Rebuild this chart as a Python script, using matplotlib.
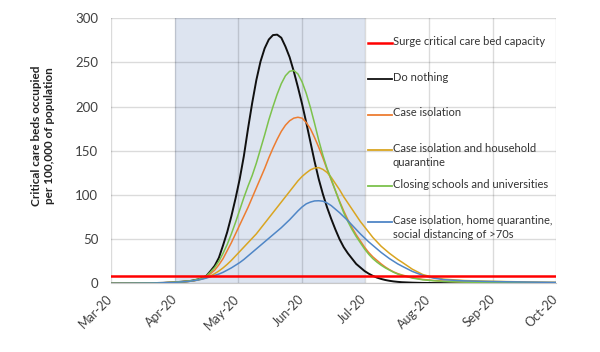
import numpy as np
import matplotlib
matplotlib.use('Agg')
from matplotlib import pyplot as plt
import matplotlib.dates as mdates

plt.rcParams['font.family'] = ['Lato', 'DejaVu Sans']

# days since 1 March 2020
days = [0, 10, 20, 25, 30, 34, 38] + list(range(40, 141, 2)) + [145, 150, 155, 160, 170, 180, 190, 200, 214]

surge_capacity = 8

do_nothing = [0, 0.1, 0.3, 0.6, 1.1, 1.8, 2.6,
              3.5, 4.5, 6, 8.5, 14, 20, 29, 43, 58, 76,
              96, 118, 144, 175, 204, 230, 251, 266, 276, 281,
              281.5, 278, 268, 256, 240, 222, 203, 182, 160, 138,
              118, 101, 86, 73, 61, 50, 41, 34, 28, 22,
              18, 14, 11, 8.5, 6.5, 5, 3.8, 2.9, 2.2, 1.7, 1.3,
              0.8, 0.5, 0.4, 0.3, 0.2, 0.15, 0.1, 0.1, 0.1]
case_isolation = [0, 0.1, 0.3, 0.6, 1.1, 1.8, 2.5,
                  3, 4, 5.5, 7.5, 11, 15, 21, 28, 37, 46,
                  56, 66, 76, 86, 97, 108, 119, 130, 142, 153,
                  163, 172, 179, 184, 187, 188, 187, 182, 175, 165,
                  154, 142, 129, 117, 105, 93, 82, 72, 63, 55,
                  48, 41, 35, 30, 26, 22, 18.5, 15.5, 13, 11, 9.5,
                  6.5, 4.5, 3.3, 2.5, 1.6, 1.2, 0.9, 0.7, 0.5]
household_quarantine = [0, 0.1, 0.3, 0.6, 1.0, 1.6, 2.4,
                        3, 3.8, 5, 6.5, 8.5, 11, 14, 17.5, 21.5, 26,
                        31, 36, 41, 46, 51, 56, 62, 68, 74, 80,
                        86, 92, 98, 104, 110, 116, 121, 125, 128.5, 130.5,
                        131, 129, 125.5, 120, 113, 106, 98, 91, 84, 77,
                        70, 64, 58, 52, 47, 42, 38, 34, 30.5, 27, 24,
                        16, 10, 6.8, 4.8, 3.2, 2.5, 2, 1.6, 1.2]
closing_schools = [0, 0.1, 0.3, 0.6, 1.1, 1.8, 2.6,
                   3.5, 4.5, 6, 8.5, 13, 18, 25, 34, 44, 56,
                   69, 83, 97, 110, 122, 136, 152, 168, 185, 200,
                   214, 226, 235, 240, 241, 237, 228, 215, 199, 181,
                   162, 145, 130, 118, 105, 92, 80, 70, 61, 53,
                   46, 39, 33, 28, 24, 20.5, 17.5, 15, 12.5, 10.5, 9,
                   6, 4, 3, 2.2, 1.4, 1, 0.8, 0.6, 0.5]
social_distancing = [0, 0.1, 0.3, 0.6, 1.0, 1.6, 2.4,
                     3, 3.8, 4.8, 6, 7.5, 9, 10.5, 12.5, 15, 17.5,
                     20.5, 23.5, 27, 31, 35, 39, 43, 47, 51, 55,
                     59, 63, 67.5, 72, 77, 82, 86.5, 90, 92, 93.3,
                     93.5, 93, 91, 88, 84, 80, 75.5, 71, 66, 61,
                     56, 51.5, 47, 43, 39, 35, 31.5, 28, 25, 22, 19.5,
                     13.5, 9, 6, 4.2, 2.8, 2.2, 1.8, 1.5, 1.1]

labels = ['Surge critical care bed capacity',
          'Do nothing',
          'Case isolation',
          'Case isolation and household\nquarantine',
          'Closing schools and universities',
          'Case isolation, home quarantine,\nsocial distancing of >70s']
colors = ['#ff0000', '#101010', '#ed7d31', '#d9a521', '#7cc24c', '#4f86c6']

dates = np.datetime64('2020-03-01') + np.array(days).astype('timedelta64[D]')

fig = plt.figure(figsize=(6, 3.52), dpi=100)
ax = fig.add_axes([0.1845, 0.195, 0.742, 0.753])

ax.axvspan(mdates.date2num(np.datetime64('2020-04-01')), mdates.date2num(np.datetime64('2020-07-01')),
           color='#dde4f0', zorder=0, lw=0)

series = [do_nothing, case_isolation, household_quarantine, closing_schools, social_distancing]
widths = [1.4, 1.1, 1.1, 1.1, 1.1]
for vals, c, w in zip(series, colors[1:], widths):
    ax.plot(dates, vals, color=c, lw=w, zorder=3)
ax.axhline(surge_capacity, color=colors[0], lw=1.8, zorder=4)

ax.set_xlim(np.datetime64('2020-03-01'), np.datetime64('2020-10-01'))
ax.set_ylim(0, 300)
ax.set_yticks(range(0, 301, 50))
ax.xaxis.set_major_locator(mdates.MonthLocator())
ax.xaxis.set_major_formatter(mdates.DateFormatter('%b-%y'))
ax.grid(True, color='black', alpha=0.14, lw=1.0, zorder=1)
ax.set_axisbelow(True)
for s in ['top', 'right', 'left']:
    ax.spines[s].set_visible(False)
ax.spines['bottom'].set_color('#c8c8c8')
ax.tick_params(length=0, labelcolor='#404040')
ax.tick_params(axis='y', pad=9, labelsize=9.5)
ax.tick_params(axis='x', pad=10, labelsize=9)
for lab in ax.get_xticklabels():
    lab.set_rotation(45)
    lab.set_ha('right')
    lab.set_rotation_mode('anchor')
    lab.set_va('center')

ax.text(-0.152, 0.556, 'Critical care beds occupied\nper 100,000 of population',
        transform=ax.transAxes, rotation=90, ha='center', va='center',
        fontsize=8.5, fontweight='bold', color='#222222', multialignment='center')

# legend sits inside the plot, no frame
for i, (lab, c) in enumerate(zip(labels, colors)):
    y = 0.906 - i * 0.1347
    ax.plot([0.578, 0.632], [y, y], transform=ax.transAxes, color=c,
            lw=1.8 if i == 0 else 1.3, clip_on=False, zorder=5)
    ax.text(0.634, y + 0.027, lab, transform=ax.transAxes, ha='left', va='top',
            fontsize=8, color='#333333', linespacing=1.35)

fig.savefig('out.png', dpi=100)
